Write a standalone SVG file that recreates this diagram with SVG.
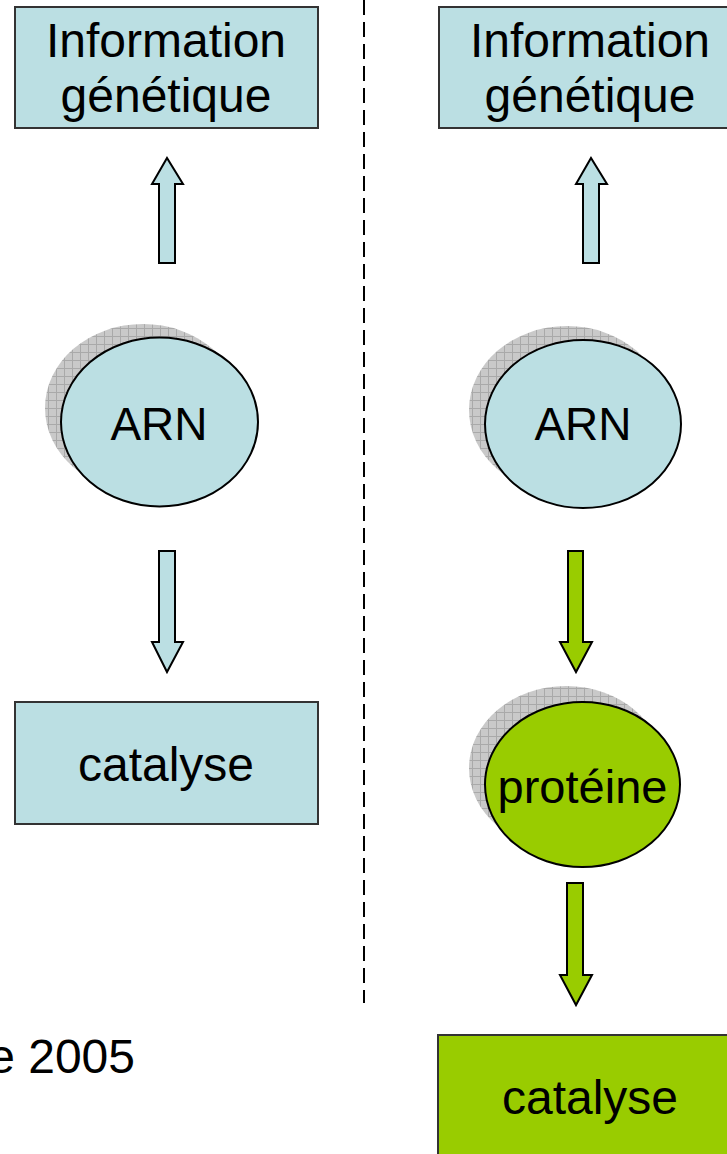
<svg xmlns="http://www.w3.org/2000/svg" width="727" height="1154" viewBox="0 0 727 1154">
  <style>
    .lbl { font-family: "Liberation Sans", Arial, sans-serif; font-size: 48px; fill: #000; text-anchor: middle; }
    .blue { fill: #BBDFE3; }
    .green { fill: #99CC00; }
    .box { stroke: #333; stroke-width: 2; }
    .oval { stroke: #000; stroke-width: 2; }
    .arrow { stroke: #000; stroke-width: 2; stroke-linejoin: miter; }
    .shadow { fill: url(#hatch); }
  </style>
  <defs>
    <pattern id="hatch" patternUnits="userSpaceOnUse" width="8" height="8">
      <rect width="8" height="8" fill="#c9c9c9"/>
      <path d="M0 0.5H8M0.5 0V8" stroke="#a9a9a9" stroke-width="1"/>
    </pattern>
  </defs>
  <rect width="727" height="1154" fill="#fff"/>

  <!-- separator between the two scenarios -->
  <line x1="364" y1="0" x2="364" y2="1003" stroke="#000" stroke-width="2" stroke-dasharray="15 7"/>

  <!-- left column -->
  <g id="info-left">
    <rect class="blue box" x="15" y="7" width="303" height="121"/>
    <text class="lbl" x="166" y="57">Information</text>
    <text class="lbl" x="166" y="112">génétique</text>
  </g>
  <g id="arn-left">
    <ellipse class="shadow" cx="143" cy="408" rx="98" ry="84"/>
    <ellipse class="blue oval" cx="159.5" cy="422" rx="98.5" ry="84.5"/>
    <text class="lbl" x="159" y="440" style="font-size:46px">ARN</text>
  </g>
  <g id="catalyse-left">
    <rect class="blue box" x="15" y="702" width="303" height="122"/>
    <text class="lbl" x="166" y="781">catalyse</text>
  </g>

  <!-- right column -->
  <g id="info-right">
    <rect class="blue box" x="439" y="7" width="303" height="121"/>
    <text class="lbl" x="590" y="57">Information</text>
    <text class="lbl" x="590" y="112">génétique</text>
  </g>
  <g id="arn-right">
    <ellipse class="shadow" cx="567" cy="410" rx="98" ry="84"/>
    <ellipse class="blue oval" cx="583" cy="424" rx="98" ry="84"/>
    <text class="lbl" x="583" y="440" style="font-size:46px">ARN</text>
  </g>
  <g id="proteine">
    <ellipse class="shadow" cx="566" cy="768" rx="97" ry="82"/>
    <ellipse class="green oval" cx="582.5" cy="784.5" rx="97.5" ry="82.5"/>
    <text class="lbl" x="582.5" y="803" style="font-size:47px">protéine</text>
  </g>
  <g id="catalyse-right">
    <rect class="green box" x="438" y="1035" width="303" height="130"/>
    <text class="lbl" x="590" y="1114">catalyse</text>
  </g>

  <!-- block arrows -->
  <g id="connectors">
    <path class="blue arrow" d="M159 263V184H152L167 158L183 184H175V263Z"/>
    <path class="blue arrow" d="M159 551V642H152L167 672L183 642H175V551Z"/>
    <path class="blue arrow" d="M583 263V184H576L591 158L607 184H599V263Z"/>
    <path class="green arrow" d="M568 551V642H560L576 672L592 642H583V551Z"/>
    <path class="green arrow" d="M567 883V975H560L576 1005L592 975H583V883Z"/>
  </g>

  <text class="lbl" x="135" y="1073" style="text-anchor:end">e 2005</text>
</svg>
